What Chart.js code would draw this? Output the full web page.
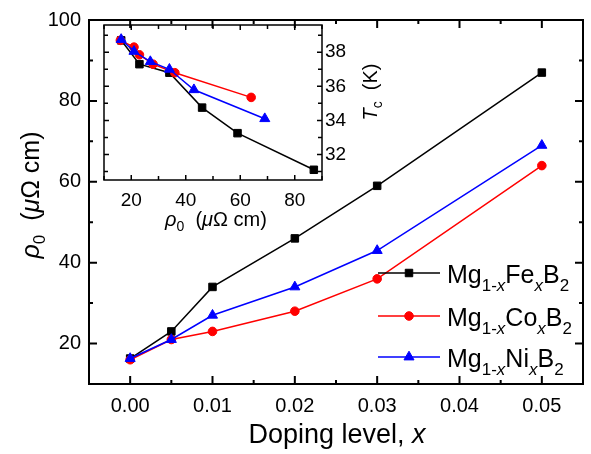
<!DOCTYPE html>
<html>
<head>
<meta charset="utf-8">
<script src="https://cdn.jsdelivr.net/npm/chart.js@4.4.1/dist/chart.umd.min.js"></script>
<style>
html, body { margin: 0; padding: 0; background: #fff; }
#wrap { position: relative; width: 591px; height: 454px; }
canvas { position: absolute; left: 0; top: 0; }
#insetChart { pointer-events: none; }
</style>
</head>
<body>
<div id="wrap">
  <canvas id="mainChart" width="591" height="454"></canvas>
  <canvas id="insetChart" width="591" height="454"></canvas>
</div>
<script>
// Data
var dopingLevels = [0, 0.005, 0.01, 0.02, 0.03, 0.05];
var rhoFe = [16.3, 23, 34, 46, 59, 87];
var rhoCo = [16, 21, 23, 28, 36, 64];
var rhoNi = [16.3, 21, 27, 34, 43, 69];
// Tc vs rho0 (inset)
var tcFe = [38.7, 37.3, 36.8, 34.75, 33.25, 31.1];
var tcCo = [38.7, 38.3, 37.85, 37.3, 36.8, 35.35];
var tcNi = [38.75, 38.05, 37.45, 37.0, 35.8, 34.1];

var dopants = ['Fe', 'Co', 'Ni'];
var seriesColors = ['#000000', '#ff0000', '#0000ff'];
var seriesMarkers = ['rect', 'circle', 'triangle'];
var markerRadius = [5.3, 4.3, 5.8];

// Tick values
var xTicks = [0, 0.01, 0.02, 0.03, 0.04, 0.05];
var xMinorTicks = [0.005, 0.015, 0.025, 0.035, 0.045];
var yTicks = [20, 40, 60, 80, 100];
var yMinorTicks = [10, 30, 50, 70, 90];
var insetXTicks = [20, 40, 60, 80];
var insetXMinorTicks = [10, 30, 50, 70, 90];
var insetYTicks = [32, 34, 36, 38];
var insetYMinorTicks = [31, 33, 35, 37, 39];

var FONT = "'Liberation Sans', Arial, sans-serif";

function pairs(xs, ys) {
    return xs.map(function (x, i) { return { x: x, y: ys[i] }; });
}

// Draws a run of text pieces (for subscripts / italics), centred or left aligned
function drawRich(ctx, runs, x, y, align, rotate) {
    ctx.save();
    ctx.translate(x, y);
    if (rotate) ctx.rotate(-Math.PI / 2);
    var total = 0;
    runs.forEach(function (r) {
        ctx.font = (r.it ? 'italic ' : '') + r.size + 'px ' + FONT;
        r.w = ctx.measureText(r.t).width;
        total += r.w;
    });
    var cx = align === 'left' ? 0 : -total / 2;
    ctx.fillStyle = '#000';
    ctx.textAlign = 'left';
    ctx.textBaseline = 'alphabetic';
    runs.forEach(function (r) {
        ctx.font = (r.it ? 'italic ' : '') + r.size + 'px ' + FONT;
        ctx.fillText(r.t, cx, r.dy || 0);
        cx += r.w;
    });
    ctx.restore();
}

function drawMarker(ctx, style, r, x, y, color) {
    ctx.save();
    ctx.fillStyle = color;
    ctx.strokeStyle = color;
    ctx.lineWidth = 1;
    ctx.beginPath();
    if (style === 'rect') {
        var s = Math.SQRT1_2 * r;
        ctx.rect(x - s, y - s, 2 * s, 2 * s);
    } else if (style === 'circle') {
        ctx.arc(x, y, r, 0, Math.PI * 2);
    } else {
        ctx.moveTo(x, y - r);
        ctx.lineTo(x + r * Math.sin(Math.PI / 3), y + r / 2);
        ctx.lineTo(x - r * Math.sin(Math.PI / 3), y + r / 2);
        ctx.closePath();
    }
    ctx.fill();
    ctx.stroke();
    ctx.restore();
}

// Frame round the plot with inward ticks on all four sides
function drawFrame(chart, lw, xMaj, xMin, yMaj, yMin, majLen, minLen) {
    var ctx = chart.ctx, a = chart.chartArea;
    var xs = chart.scales.x, ys = chart.scales.y;
    ctx.save();
    ctx.strokeStyle = '#000';
    ctx.lineWidth = lw;
    ctx.strokeRect(a.left, a.top, a.right - a.left, a.bottom - a.top);
    ctx.beginPath();
    function xt(v, len) {
        var p = xs.getPixelForValue(v);
        ctx.moveTo(p, a.bottom); ctx.lineTo(p, a.bottom - len);
        ctx.moveTo(p, a.top); ctx.lineTo(p, a.top + len);
    }
    function yt(v, len) {
        var p = ys.getPixelForValue(v);
        ctx.moveTo(a.left, p); ctx.lineTo(a.left + len, p);
        ctx.moveTo(a.right, p); ctx.lineTo(a.right - len, p);
    }
    xMaj.forEach(function (v) { xt(v, majLen); });
    xMin.forEach(function (v) { xt(v, minLen); });
    yMaj.forEach(function (v) { yt(v, majLen); });
    yMin.forEach(function (v) { yt(v, minLen); });
    ctx.stroke();
    ctx.restore();
}

function formula(el) {
    return [
        { t: 'Mg', size: 25 },
        { t: '1-', size: 17, dy: 8 },
        { t: 'x', size: 17, dy: 8, it: true },
        { t: el, size: 25 },
        { t: 'x', size: 17, dy: 8, it: true },
        { t: 'B', size: 25 },
        { t: '2', size: 17, dy: 8 }
    ];
}

var mainDecor = {
    id: 'mainDecor',
    afterDraw: function (chart) {
        var ctx = chart.ctx;
        drawFrame(chart, 2, xTicks, xMinorTicks, yTicks, yMinorTicks, 8, 4);

        drawRich(ctx, [
            { t: 'Doping level, ', size: 27 },
            { t: 'x', size: 27, it: true }
        ], 337, 443);

        drawRich(ctx, [
            { t: '\u03c1', size: 25, it: true },
            { t: '0', size: 17, dy: 6 },
            { t: '  (', size: 25 },
            { t: '\u03bc', size: 25, it: true },
            { t: '\u03a9 cm)', size: 25 }
        ], 39, 195, 'center', true);

        // legend
        var rowsY = [273, 316, 357];
        dopants.forEach(function (el, i) {
            var y = rowsY[i];
            ctx.save();
            ctx.strokeStyle = seriesColors[i];
            ctx.lineWidth = 1.5;
            ctx.beginPath();
            ctx.moveTo(378, y);
            ctx.lineTo(440, y);
            ctx.stroke();
            ctx.restore();
            drawMarker(ctx, seriesMarkers[i], markerRadius[i], 409, y, seriesColors[i]);
            drawRich(ctx, formula(el), 447, y + 10, 'left');
        });
    }
};

var insetDecor = {
    id: 'insetDecor',
    afterDraw: function (chart) {
        var ctx = chart.ctx;
        drawFrame(chart, 1.5, insetXTicks, insetXMinorTicks, insetYTicks, insetYMinorTicks, 5, 4);
        drawRich(ctx, [
            { t: '\u03c1', size: 20, it: true },
            { t: '0', size: 14, dy: 5 },
            { t: '  (', size: 20 },
            { t: '\u03bc', size: 20, it: true },
            { t: '\u03a9 cm)', size: 20 }
        ], 216, 226);
        drawRich(ctx, [
            { t: 'T', size: 20, it: true },
            { t: 'c', size: 14, dy: 5 },
            { t: '  (K)', size: 20 }
        ], 377, 92, 'center', true);
    }
};

function makeDatasets(xArrays, yArrays) {
    return dopants.map(function (el, i) {
        return {
            label: 'Mg1-x' + el + 'xB2',
            data: pairs(xArrays[i], yArrays[i]),
            borderColor: seriesColors[i],
            backgroundColor: seriesColors[i],
            pointBackgroundColor: seriesColors[i],
            pointBorderColor: seriesColors[i],
            pointStyle: seriesMarkers[i],
            pointRadius: markerRadius[i],
            pointBorderWidth: 1,
            borderWidth: 1.5,
            tension: 0,
            order: 2 - i
        };
    });
}

function fixedTicks(values) {
    return function (scale) {
        scale.ticks = values.map(function (v) { return { value: v }; });
    };
}

var tickFont = { family: FONT, size: 20 };

new Chart(document.getElementById('mainChart'), {
    type: 'line',
    data: {
        datasets: makeDatasets([dopingLevels, dopingLevels, dopingLevels], [rhoFe, rhoCo, rhoNi])
    },
    options: {
        responsive: false,
        animation: false,
        events: [],
        layout: { padding: { top: 15, right: 8, left: 0, bottom: 0 } },
        plugins: { legend: { display: false }, tooltip: { enabled: false } },
        scales: {
            x: {
                type: 'linear',
                min: -0.005,
                max: 0.055,
                grid: { display: false, drawTicks: false },
                border: { display: false },
                afterBuildTicks: fixedTicks(xTicks),
                afterFit: function (s) { s.height = 70; },
                ticks: {
                    color: '#000',
                    font: tickFont,
                    padding: 10,
                    maxRotation: 0,
                    callback: function (v) { return Number(v).toFixed(2); }
                }
            },
            y: {
                min: 10,
                max: 100,
                grid: { display: false, drawTicks: false },
                border: { display: false },
                afterBuildTicks: fixedTicks(yTicks),
                afterFit: function (s) { s.width = 89; },
                ticks: { color: '#000', font: tickFont, padding: 8 }
            }
        }
    },
    plugins: [mainDecor]
});

var insetFont = { family: FONT, size: 19 };

new Chart(document.getElementById('insetChart'), {
    type: 'line',
    data: {
        datasets: makeDatasets([rhoFe, rhoCo, rhoNi], [tcFe, tcCo, tcNi])
    },
    options: {
        responsive: false,
        animation: false,
        events: [],
        layout: { padding: { top: 25, left: 104, right: 229, bottom: 244 } },
        plugins: { legend: { display: false }, tooltip: { enabled: false } },
        scales: {
            x: {
                type: 'linear',
                min: 10,
                max: 90,
                grid: { display: false, drawTicks: false },
                border: { display: false },
                afterBuildTicks: fixedTicks(insetXTicks),
                afterFit: function (s) { s.height = 30; },
                ticks: { color: '#000', font: insetFont, padding: 9, maxRotation: 0 }
            },
            y: {
                position: 'right',
                min: 30.5,
                max: 39.6,
                grid: { display: false, drawTicks: false },
                border: { display: false },
                afterBuildTicks: fixedTicks(insetYTicks),
                afterFit: function (s) { s.width = 40; },
                ticks: { color: '#000', font: insetFont, padding: 3 }
            }
        }
    },
    plugins: [insetDecor]
});
</script>
</body>
</html>
